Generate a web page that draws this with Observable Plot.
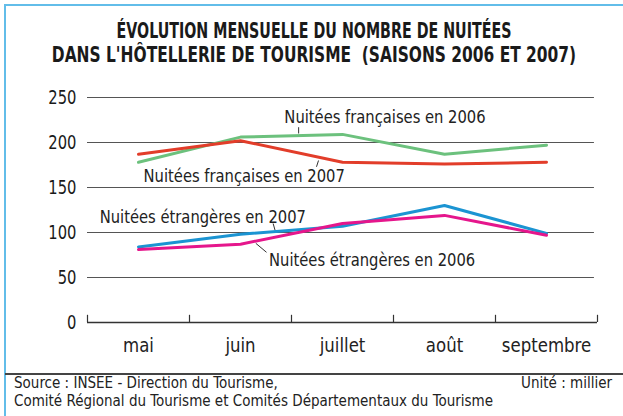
<!DOCTYPE html>
<html>
<head>
<meta charset="utf-8">
<script src="https://cdn.jsdelivr.net/npm/d3@7"></script>
<script src="https://cdn.jsdelivr.net/npm/@observablehq/plot@0.6"></script>
<style>
  body { margin: 0; background: #fff; }
  #frame { position: relative; width: 623px; height: 416px; overflow: hidden; background: #fff;
           font-family: "DejaVu Sans Condensed", "DejaVu Sans", sans-serif; font-stretch: condensed; color: #222; }
  .bt { position: absolute; left: 4px; top: 4px; right: 0; height: 2px; background: #62bde9; }
  .bl { position: absolute; left: 4px; top: 4px; bottom: 0; width: 2px; background: #62bde9; }
  .tl { position: absolute; left: -186px; width: 1000px; text-align: center; font-weight: bold; white-space: nowrap;
        font-size: 22px; line-height: 24px; color: #1a1a1a; transform-origin: 500px 0; }
  #plot { position: absolute; top: 70px; left: 0; }
  .sep { position: absolute; left: 5px; right: 0; top: 373px; height: 1.5px; background: #444; }
  .foot { position: absolute; font-size: 15px; line-height: 18px; color: #222; white-space: nowrap; }
</style>
</head>
<body>
<div id="frame">
  <div class="bt"></div>
  <div class="bl"></div>
  <div class="tl" style="top:19px; transform: scaleX(0.72);">ÉVOLUTION MENSUELLE DU NOMBRE DE NUITÉES</div>
  <div class="tl" style="top:43px; transform: scaleX(0.78);">DANS L'HÔTELLERIE DE TOURISME&nbsp; (SAISONS 2006 ET 2007)</div>
  <div id="plot"></div>
  <div class="sep"></div>
  <div class="foot" style="left:14px; top:374px;">Source : INSEE - Direction du Tourisme,<br>Comité Régional du Tourisme et Comités Départementaux du Tourisme</div>
  <div class="foot" style="right:11px; top:374px;">Unité : millier</div>
</div>
<script>
const months = ["mai", "juin", "juillet", "août", "septembre"];
const francaises2006 = [178, 206, 209, 187, 197];
const francaises2007 = [187, 202, 178, 176, 178];
const etrangeres2007 = [84, 98, 107, 130, 99];
const etrangeres2006 = [81, 87, 110, 119, 97];
const yTicks = [0, 50, 100, 150, 200, 250];

const seriesColors = {
  francaises2006: "#6cc17d",
  francaises2007: "#e23d2a",
  etrangeres2007: "#1b94d2",
  etrangeres2006: "#e5168c"
};

// annotation labels (x in month index units, y in thousands)
const labelNames = ["Nuitées françaises en 2006", "Nuitées françaises en 2007", "Nuitées étrangères en 2007", "Nuitées étrangères en 2006"];
const labelX = [1.43, 0.05, -0.38, 1.28];
const labelY = [228, 162, 117, 69];
// leader lines
const leaderX1 = [1.57, 1.765, 1.32, 1.15];
const leaderY1 = [217, 180, 110, 88];
const leaderX2 = [1.57, 1.745, 1.34, 1.255];
const leaderY2 = [210, 173, 102, 78];

const idx = months.map((m, i) => i);
const toRows = (vals) => vals.map((v, i) => ({x: i, y: v}));
const boundaries = [...idx.map(i => i - 0.5), months.length - 0.5];
const labels = labelNames.map((t, i) => ({t, x: labelX[i], y: labelY[i]}));
const leaders = leaderX1.map((x1, i) => ({x1, y1: leaderY1[i], x2: leaderX2[i], y2: leaderY2[i]}));

const font = '"DejaVu Sans Condensed", "DejaVu Sans", sans-serif';

const chart = Plot.plot({
  width: 623,
  height: 300,
  marginLeft: 87,
  marginRight: 26,
  marginTop: 27,
  marginBottom: 48,
  style: {fontFamily: font, fontStretch: "condensed", background: "transparent", overflow: "visible"},
  x: {type: "linear", domain: [-0.5, months.length - 0.5], axis: null},
  y: {domain: [0, 250], axis: null},
  marks: [
    Plot.ruleY(yTicks.filter(d => d > 0), {stroke: "#555", strokeWidth: 1.2, x1: -0.5, x2: 4.47}),
    Plot.ruleY([0], {stroke: "#333", strokeWidth: 1.3}),
    Plot.ruleX(boundaries, {y1: 0, y2: 8, stroke: "#333", strokeWidth: 1.2}),
    Plot.text(yTicks, {x: -0.5, y: d => d, text: d => String(d), textAnchor: "end", dx: -11, fontSize: 19.5, fill: "#1a1a1a"}),
    Plot.text(months, {x: (d, i) => i, y: 0, text: d => d, dy: 23, fontSize: 19, fill: "#222"}),
    Plot.link(leaders, {x1: "x1", y1: "y1", x2: "x2", y2: "y2", stroke: "#333", strokeWidth: 1}),
    Plot.line(toRows(francaises2006), {x: "x", y: "y", stroke: seriesColors.francaises2006, strokeWidth: 3}),
    Plot.line(toRows(francaises2007), {x: "x", y: "y", stroke: seriesColors.francaises2007, strokeWidth: 3}),
    Plot.line(toRows(etrangeres2007), {x: "x", y: "y", stroke: seriesColors.etrangeres2007, strokeWidth: 3}),
    Plot.line(toRows(etrangeres2006), {x: "x", y: "y", stroke: seriesColors.etrangeres2006, strokeWidth: 3}),
    Plot.text(labels, {x: "x", y: "y", text: "t", textAnchor: "start", fontSize: 18, fill: "#222"})
  ]
});
document.getElementById("plot").appendChild(chart);

// condense glyphs horizontally to mimic the narrow typeface of the original
const textGroups = chart.querySelectorAll('g[aria-label="text"]');
function condense(group, factor) {
  if (!group) return;
  group.querySelectorAll("text").forEach(function(el) {
    const w = el.getComputedTextLength();
    if (w > 0) {
      el.setAttribute("textLength", w * factor);
      el.setAttribute("lengthAdjust", "spacingAndGlyphs");
    }
  });
}
condense(textGroups[0], 0.84);  // y tick labels
condense(textGroups[1], 0.97);  // month labels
condense(textGroups[2], 0.91);  // series labels
</script>
</body>
</html>
